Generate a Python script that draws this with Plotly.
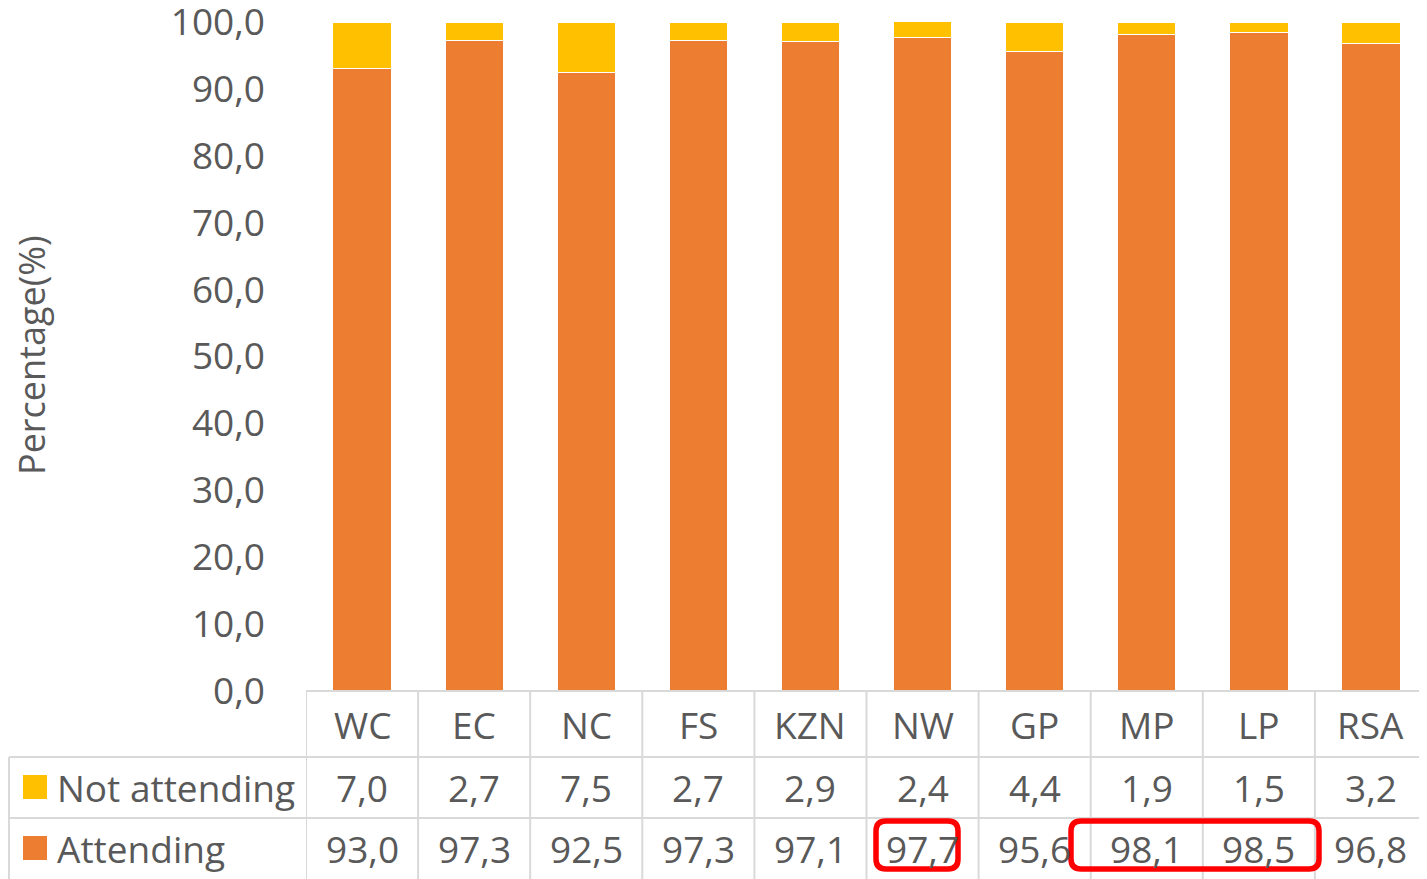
import plotly.graph_objects as go

categories = ["WC", "EC", "NC", "FS", "KZN", "NW", "GP", "MP", "LP", "RSA"]
attending = [93.0, 97.3, 92.5, 97.3, 97.1, 97.7, 95.6, 98.1, 98.5, 96.8]
not_attending = [7.0, 2.7, 7.5, 2.7, 2.9, 2.4, 4.4, 1.9, 1.5, 3.2]
series_names = ["Not attending", "Attending"]
y_ticks = [0, 10, 20, 30, 40, 50, 60, 70, 80, 90, 100]

OFF = 8  # page body margin
SW, SH = 1427, 879  # screen size
W, H = SW - OFF, SH - OFF
# plot area in screen pixels
X0, X1, Y0, Y1 = 306, 1427, 22, 691
L, R, T, B = X0 - OFF, SW - X1, Y0 - OFF, SH - Y1
PW, PH = X1 - X0, Y1 - Y0

ORANGE = "#ED7D31"
YELLOW = "#FFC000"
TXT = "#595959"
GRID = "#D9D9D9"
FONT = "'Open Sans', Lato, sans-serif"
FS = 37


def px(x):
    return (x - X0) / PW


def py(y):
    return (Y1 - y) / PH


def fmt(v):
    return f"{v:.1f}".replace(".", ",")


fig = go.Figure()
fig.add_trace(go.Bar(x=categories, y=attending, name=series_names[1],
                     marker=dict(color=ORANGE, line=dict(color="white", width=1))))
fig.add_trace(go.Bar(x=categories, y=not_attending, name=series_names[0],
                     marker=dict(color=YELLOW, line=dict(color="white", width=1))))

shapes = []
annotations = []

# table horizontal lines
for yy, x0 in [(691, 306), (757, 9), (818, 9)]:
    shapes.append(dict(type="line", xref="paper", yref="paper",
                       x0=px(x0), x1=px(1426), y0=py(yy), y1=py(yy),
                       line=dict(color=GRID, width=2)))
# table vertical lines
n = len(categories)
for i in range(n + 1):
    shapes.append(dict(type="line", xref="x", yref="paper",
                       x0=i - 0.5, x1=i - 0.5, y0=py(691), y1=py(880),
                       line=dict(color=GRID, width=2)))
shapes.append(dict(type="line", xref="paper", yref="paper",
                   x0=px(9), x1=px(9), y0=py(757), y1=py(880),
                   line=dict(color=GRID, width=2)))

# legend keys
for name, color, yc in [(series_names[0], YELLOW, 787), (series_names[1], ORANGE, 848)]:
    shapes.append(dict(type="rect", xref="paper", yref="paper",
                       x0=px(23), x1=px(47), y0=py(yc - 12), y1=py(yc + 12),
                       fillcolor=color, line=dict(width=0)))
    annotations.append(dict(xref="paper", yref="paper", x=px(55), y=py(yc),
                            text=name, showarrow=False, xanchor="left", yanchor="middle",
                            font=dict(size=FS, color=TXT, family=FONT)))

# table values
for i, c in enumerate(categories):
    annotations.append(dict(xref="x", yref="paper", x=c, y=py(724), text=c,
                            showarrow=False, yanchor="middle",
                            font=dict(size=FS, color=TXT, family=FONT)))
    annotations.append(dict(xref="x", yref="paper", x=c, y=py(787), text=fmt(not_attending[i]),
                            showarrow=False, yanchor="middle",
                            font=dict(size=FS, color=TXT, family=FONT)))
    annotations.append(dict(xref="x", yref="paper", x=c, y=py(848), text=fmt(attending[i]),
                            showarrow=False, yanchor="middle",
                            font=dict(size=FS, color=TXT, family=FONT)))


def rrect(x0, y0, x1, y1, r):
    def P(x, y):
        return f"{px(x)},{py(y)}"
    path = (f"M {P(x0 + r, y0)} L {P(x1 - r, y0)} Q {P(x1, y0)} {P(x1, y0 + r)} "
            f"L {P(x1, y1 - r)} Q {P(x1, y1)} {P(x1 - r, y1)} "
            f"L {P(x0 + r, y1)} Q {P(x0, y1)} {P(x0, y1 - r)} "
            f"L {P(x0, y0 + r)} Q {P(x0, y0)} {P(x0 + r, y0)} Z")
    return dict(type="path", xref="paper", yref="paper", path=path,
                line=dict(color="#FF0000", width=5.5), fillcolor="rgba(0,0,0,0)")


shapes.append(rrect(876, 821, 958, 869, 10))
shapes.append(rrect(1071, 821, 1319, 869, 10))

# y axis title
annotations.append(dict(xref="paper", yref="paper", x=px(31), y=py(355),
                        text="Percentage(%)", textangle=-90, showarrow=False,
                        xanchor="center", yanchor="middle",
                        font=dict(size=36, color=TXT, family=FONT)))

fig.update_layout(
    width=W, height=H,
    margin=dict(l=L, r=R, t=T, b=B, pad=0, autoexpand=False),
    barmode="stack", bargap=0.48,
    showlegend=False,
    plot_bgcolor="white", paper_bgcolor="white",
    separators=",.",
    font=dict(family=FONT, color=TXT, size=FS),
    shapes=shapes, annotations=annotations,
    xaxis=dict(showticklabels=False, showgrid=False, zeroline=False, showline=False,
               range=[-0.5, n - 0.5], fixedrange=True, automargin=False),
    yaxis=dict(range=[0, 100], tickvals=y_ticks, tickformat=".1f", showgrid=False,
               zeroline=False, showline=False, ticks="", ticklabelstandoff=40,
               ticklabeloverflow="allow", automargin=False,
               tickfont=dict(size=FS, color=TXT, family=FONT), fixedrange=True),
)

fig.write_html("out.html")
